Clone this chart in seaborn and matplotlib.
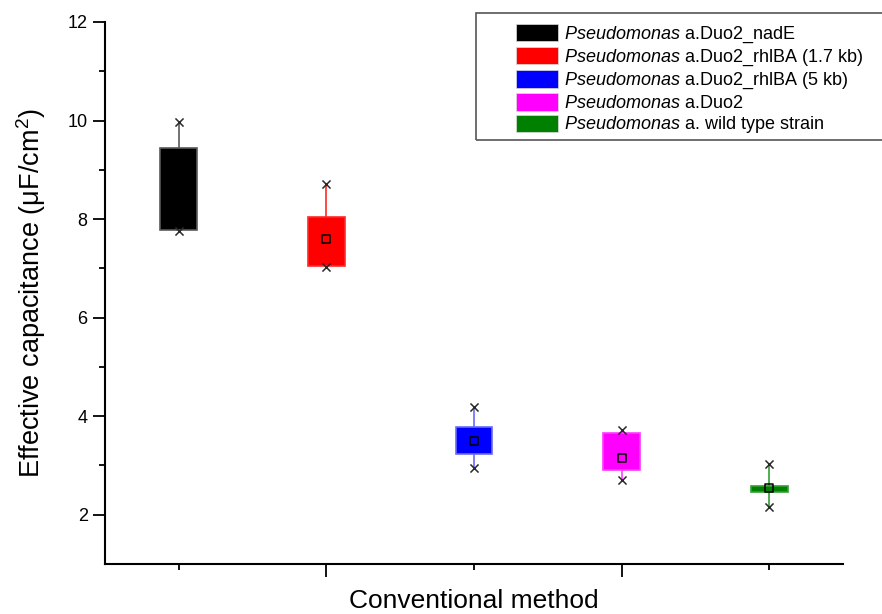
import matplotlib
matplotlib.use("Agg")
import matplotlib.pyplot as plt
from matplotlib.patches import Patch, Rectangle
from matplotlib.ticker import FixedLocator, NullFormatter
import seaborn as sns

# Strain groups, in plotting order
strains = [
    r"$\it{Pseudomonas}$ a.Duo2_nadE",
    r"$\it{Pseudomonas}$ a.Duo2_rhlBA (1.7 kb)",
    r"$\it{Pseudomonas}$ a.Duo2_rhlBA (5 kb)",
    r"$\it{Pseudomonas}$ a.Duo2",
    r"$\it{Pseudomonas}$ a. wild type strain",
]
positions = [1, 2, 3, 4, 5]

# Effective capacitance statistics (uF/cm^2)
cap_min = [7.75, 7.02, 2.95, 2.70, 2.16]
cap_q1 = [7.78, 7.04, 3.24, 2.91, 2.47]
cap_median = [8.60, 7.59, 3.49, 3.15, 2.54]
cap_q3 = [9.45, 8.05, 3.79, 3.66, 2.59]
cap_max = [9.97, 8.71, 4.19, 3.72, 3.03]
cap_mean = [8.60, 7.59, 3.49, 3.15, 2.54]

box_colors = ["#000000", "#ff0000", "#0000ff", "#ff00ff", "#008000"]
whisker_colors = ["#5a5a5a", "#ff2a2a", "#6a6aff", "#ff3cff", "#33a033"]

sns.set_style("ticks")
plt.rcParams["font.family"] = ["Liberation Sans", "DejaVu Sans"]
plt.rcParams["mathtext.fontset"] = "custom"
plt.rcParams["mathtext.rm"] = "Liberation Sans"
plt.rcParams["mathtext.it"] = "Liberation Sans:italic"
plt.rcParams["mathtext.default"] = "regular"
for key in ("text.color", "axes.labelcolor", "xtick.color", "ytick.color"):
    plt.rcParams[key] = "black"

W, H = 882, 614
fig = plt.figure(figsize=(W / 100, H / 100), dpi=100)
ax = fig.add_axes([105 / W, 1 - 564 / H, (843 - 105) / W, (564 - 22) / H])

for i in range(len(positions)):
    values = [cap_min[i], cap_q1[i], cap_median[i], cap_q3[i], cap_max[i]]
    sns.boxplot(
        x=[positions[i]] * len(values), y=values, orient="x",
        native_scale=True, width=0.25, whis=(0, 100),
        color=box_colors[i], linecolor=whisker_colors[i], saturation=1,
        linewidth=1.2, showcaps=False, fill=True,
        medianprops={"visible": False}, ax=ax,
    )

# Extremes drawn as crosses
sns.scatterplot(
    x=positions + positions, y=cap_min + cap_max, marker="x",
    color="#2a2a2a", s=34, linewidth=1.1, zorder=6, legend=False, ax=ax,
)
# Mean markers: small hollow squares
sns.scatterplot(
    x=positions, y=cap_mean, marker="s", facecolor="none",
    edgecolor="black", s=32, linewidth=1.1, zorder=7, legend=False, ax=ax,
)

ax.set_xlim(0.5, 5.5)
ax.set_ylim(1, 12)

ax.xaxis.set_major_locator(FixedLocator([2, 4]))
ax.xaxis.set_minor_locator(FixedLocator([1, 3, 5]))
ax.xaxis.set_major_formatter(NullFormatter())
ax.yaxis.set_major_locator(FixedLocator([2, 4, 6, 8, 10, 12]))
ax.yaxis.set_minor_locator(FixedLocator([3, 5, 7, 9, 11]))
ax.tick_params(axis="both", which="major", direction="out", length=8.5,
               width=1.3, color="black", labelcolor="black", labelsize=13, pad=4)
ax.tick_params(axis="both", which="minor", direction="out", length=4.5,
               width=1.3, color="black")
ax.tick_params(axis="x", which="major", length=9)

sns.despine(ax=ax)
for side in ("left", "bottom"):
    ax.spines[side].set_linewidth(1.5)
    ax.spines[side].set_color("black")

ax.set_xlabel("Conventional method", fontsize=19, labelpad=5, color="black")
ax.set_ylabel("Effective capacitance (\u03bcF/cm$^2$)", fontsize=19.5,
              labelpad=14, color="black")

handles = [Patch(facecolor=c, edgecolor="#dddddd", linewidth=0.5) for c in box_colors]
fig.legend(
    handles, strains, loc="upper left",
    bbox_to_anchor=(516 / W, 1 - 24 / H), frameon=False, fontsize=13,
    borderpad=0, borderaxespad=0, handlelength=2.35, handleheight=1.1,
    handletextpad=0.3, labelspacing=0.12, labelcolor="black",
)
fig.patches.append(Rectangle(
    (476 / W, 1 - 140 / H), 420 / W, 127 / H, transform=fig.transFigure,
    fill=False, edgecolor="#555555", linewidth=1.2, clip_on=False,
))

fig.savefig("out.png", dpi=100)
